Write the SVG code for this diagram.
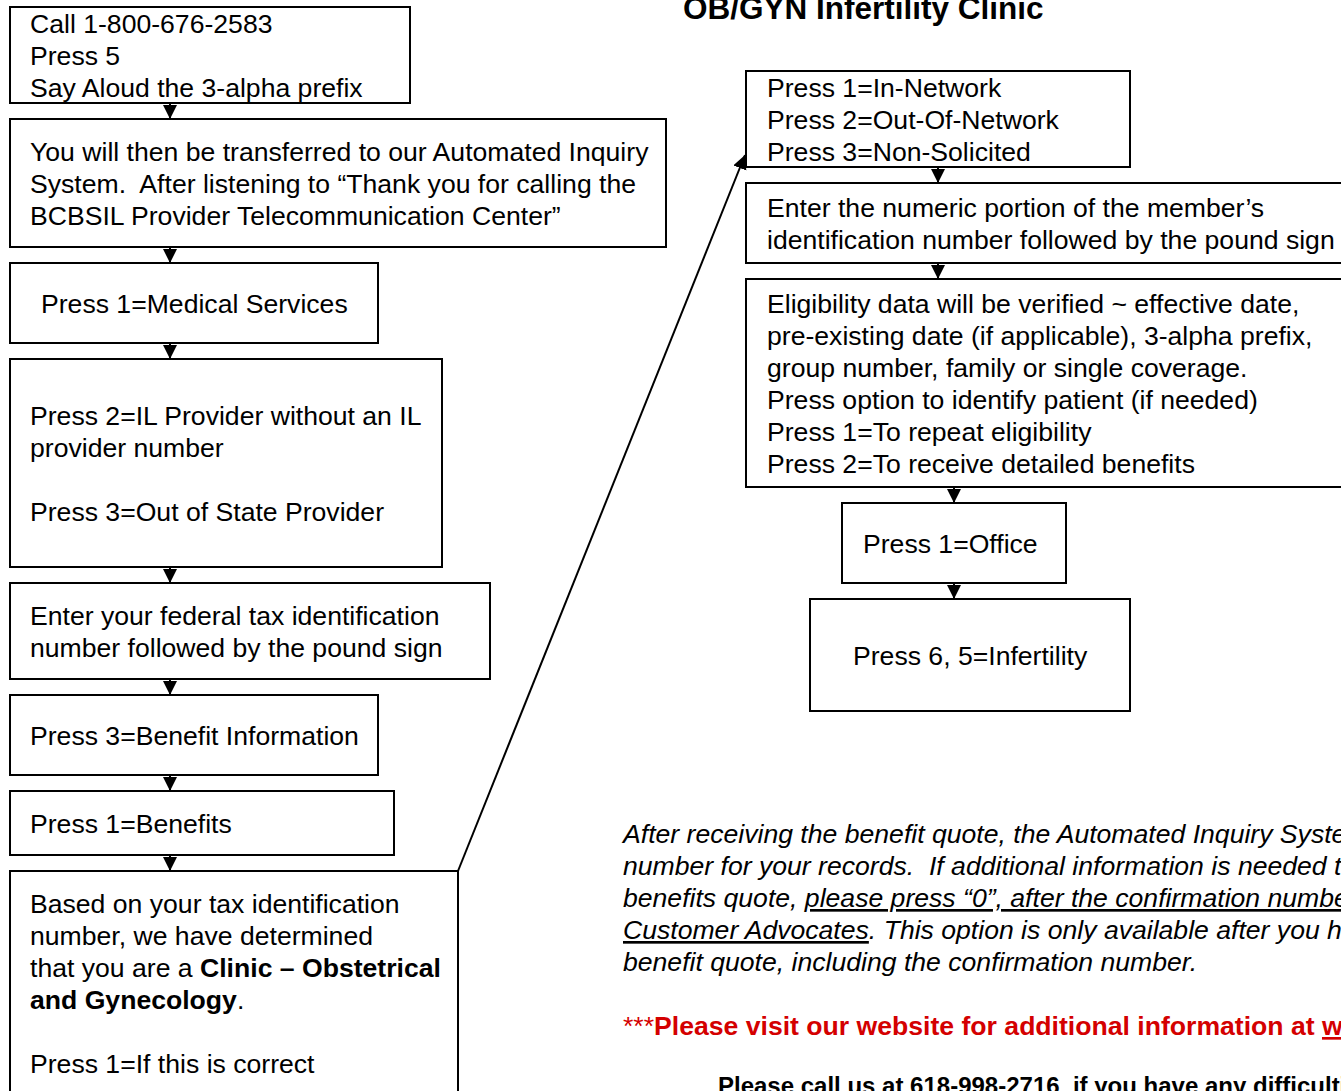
<svg xmlns="http://www.w3.org/2000/svg" width="1341" height="1091" viewBox="0 0 1341 1091">
<style>
  .box { fill: #fff; stroke: #000; stroke-width: 2; }
  .t { font-family: "Liberation Sans", Arial, sans-serif; font-size: 26.6px; fill: #000; }
  .b { font-weight: bold; }
  .i { font-style: italic; }
  .u { text-decoration: underline; }
  .red { fill: #d40000; }
  .conn { stroke: #000; stroke-width: 2; fill: none; }
</style>
<defs>
  <marker id="ah" markerUnits="userSpaceOnUse" markerWidth="14" markerHeight="16" viewBox="0 0 14 16" refX="14" refY="7" orient="auto">
    <path d="M0,0 L14,7 L0,14 Z" fill="#000"/>
  </marker>
</defs>
<rect width="1341" height="1091" fill="#fff"/>

<g id="n1"><rect class="box" x="10" y="7" width="400" height="96"/>
  <text class="t" x="30" y="33">Call 1-800-676-2583</text>
  <text class="t" x="30" y="65">Press 5</text>
  <text class="t" x="30" y="97">Say Aloud the 3-alpha prefix</text></g>

<g id="n2"><rect class="box" x="10" y="119" width="656" height="128"/>
  <text class="t" x="30" y="161">You will then be transferred to our Automated Inquiry</text>
  <text class="t" x="30" y="193" xml:space="preserve">System.  After listening to “Thank you for calling the</text>
  <text class="t" x="30" y="225">BCBSIL Provider Telecommunication Center”</text></g>

<g id="n3"><rect class="box" x="10" y="263" width="368" height="80"/>
  <text class="t" x="41" y="313">Press 1=Medical Services</text></g>

<g id="n4"><rect class="box" x="10" y="359" width="432" height="208"/>
  <text class="t" x="30" y="425">Press 2=IL Provider without an IL</text>
  <text class="t" x="30" y="457">provider number</text>
  <text class="t" x="30" y="521">Press 3=Out of State Provider</text></g>

<g id="n5"><rect class="box" x="10" y="583" width="480" height="96"/>
  <text class="t" x="30" y="625">Enter your federal tax identification</text>
  <text class="t" x="30" y="657">number followed by the pound sign</text></g>

<g id="n6"><rect class="box" x="10" y="695" width="368" height="80"/>
  <text class="t" x="30" y="745">Press 3=Benefit Information</text></g>

<g id="n7"><rect class="box" x="10" y="791" width="384" height="64"/>
  <text class="t" x="30" y="833">Press 1=Benefits</text></g>

<g id="n8"><rect class="box" x="10" y="871" width="448" height="240"/>
  <text class="t" x="30" y="913">Based on your tax identification</text>
  <text class="t" x="30" y="945">number, we have determined</text>
  <text class="t" x="30" y="977">that you are a <tspan class="b">Clinic – Obstetrical</tspan></text>
  <text class="t" x="30" y="1009"><tspan class="b">and Gynecology</tspan>.</text>
  <text class="t" x="30" y="1073">Press 1=If this is correct</text></g>

<g id="title"><text class="t b" x="683" y="19" style="font-size:31.5px">OB/GYN Infertility Clinic</text></g>

<g id="r1"><rect class="box" x="746" y="71" width="384" height="96"/>
  <text class="t" x="767" y="97">Press 1=In-Network</text>
  <text class="t" x="767" y="129">Press 2=Out-Of-Network</text>
  <text class="t" x="767" y="161">Press 3=Non-Solicited</text></g>

<g id="r2"><rect class="box" x="746" y="183" width="620" height="80"/>
  <text class="t" x="767" y="217">Enter the numeric portion of the member’s</text>
  <text class="t" x="767" y="249">identification number followed by the pound sign</text></g>

<g id="r3"><rect class="box" x="746" y="279" width="620" height="208"/>
  <text class="t" x="767" y="313">Eligibility data will be verified ~ effective date,</text>
  <text class="t" x="767" y="345">pre-existing date (if applicable), 3-alpha prefix,</text>
  <text class="t" x="767" y="377">group number, family or single coverage.</text>
  <text class="t" x="767" y="409">Press option to identify patient (if needed)</text>
  <text class="t" x="767" y="441">Press 1=To repeat eligibility</text>
  <text class="t" x="767" y="473">Press 2=To receive detailed benefits</text></g>

<g id="r4"><rect class="box" x="842" y="503" width="224" height="80"/>
  <text class="t" x="863" y="553">Press 1=Office</text></g>

<g id="r5"><rect class="box" x="810" y="599" width="320" height="112"/>
  <text class="t" x="853" y="665">Press 6, 5=Infertility</text></g>

<g id="note">
  <text class="t i" x="623" y="843">After receiving the benefit quote, the Automated Inquiry System</text>
  <text class="t i" x="623" y="875" xml:space="preserve">number for your records.  If additional information is needed to</text>
  <text class="t i" x="623" y="907">benefits quote, <tspan class="u">please press “0”, after the confirmation number</tspan></text>
  <text class="t i" x="623" y="939"><tspan class="u">Customer Advocates</tspan>. This option is only available after you have</text>
  <text class="t i" x="623" y="971">benefit quote, including the confirmation number.</text>
  <text class="t red" x="623" y="1035">***<tspan class="b">Please visit our website for additional information at </tspan><tspan class="b u">www</tspan></text>
  <text class="t b" x="718" y="1094" style="font-size:24px" xml:space="preserve">Please call us at 618-998-2716  if you have any difficulties</text>
</g>

<g id="connectors">
  <line class="conn" x1="170" y1="103" x2="170" y2="119" marker-end="url(#ah)"/>
  <line class="conn" x1="170" y1="247" x2="170" y2="263" marker-end="url(#ah)"/>
  <line class="conn" x1="170" y1="343" x2="170" y2="359" marker-end="url(#ah)"/>
  <line class="conn" x1="170" y1="567" x2="170" y2="583" marker-end="url(#ah)"/>
  <line class="conn" x1="170" y1="679" x2="170" y2="695" marker-end="url(#ah)"/>
  <line class="conn" x1="170" y1="775" x2="170" y2="791" marker-end="url(#ah)"/>
  <line class="conn" x1="170" y1="855" x2="170" y2="871" marker-end="url(#ah)"/>
  <line class="conn" x1="458" y1="871" x2="745" y2="155" marker-end="url(#ah)"/>
  <line class="conn" x1="938" y1="167" x2="938" y2="183" marker-end="url(#ah)"/>
  <line class="conn" x1="938" y1="263" x2="938" y2="279" marker-end="url(#ah)"/>
  <line class="conn" x1="954" y1="487" x2="954" y2="503" marker-end="url(#ah)"/>
  <line class="conn" x1="954" y1="583" x2="954" y2="599" marker-end="url(#ah)"/>
</g>
</svg>
